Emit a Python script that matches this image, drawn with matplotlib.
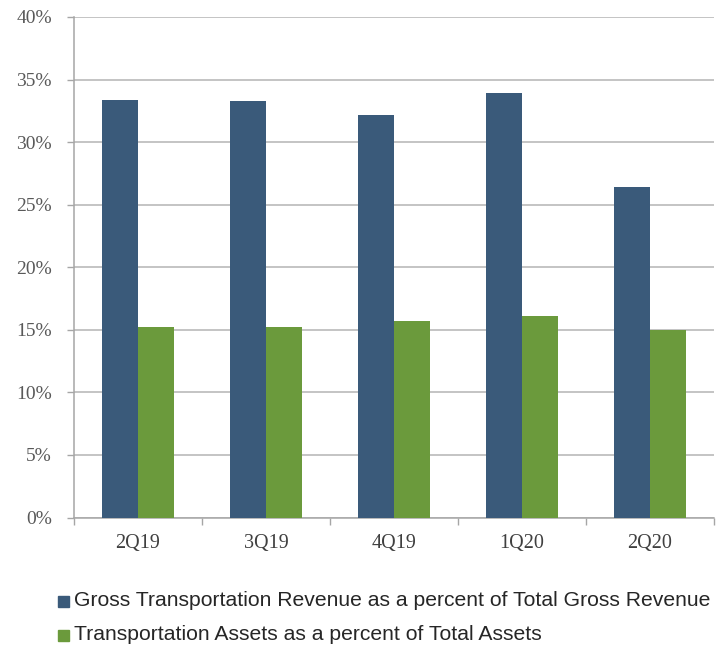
import numpy as np
import matplotlib.pyplot as plt
from matplotlib.patches import Rectangle

quarters = ["2Q19", "3Q19", "4Q19", "1Q20", "2Q20"]
revenue_pct = [33.4, 33.3, 32.2, 33.9, 26.4]
assets_pct = [15.2, 15.2, 15.7, 16.1, 15.0]
series_names = ["Gross Transportation Revenue as a percent of Total Gross Revenue",
                "Transportation Assets as a percent of Total Assets"]
yticks = [0, 5, 10, 15, 20, 25, 30, 35, 40]

blue = "#3a5a7a"
green = "#6b9a3c"
grey = "#a6a6a6"
text_c = "#595959"

fig = plt.figure(figsize=(7.18, 6.5), dpi=100)
ax = fig.add_axes([74 / 718, 1 - 517.5 / 650, 640 / 718, 500.5 / 650])

x = np.arange(len(quarters))
w = 0.28
ax.bar(x - w / 2, revenue_pct, w, color=blue, zorder=3)
ax.bar(x + w / 2, assets_pct, w, color=green, zorder=3)

ax.set_xlim(-0.5, len(quarters) - 0.5)
ax.set_ylim(0, 40)
ax.set_yticks(yticks)
ax.set_yticklabels([f"{v}%" for v in yticks], fontsize=14, family="Liberation Serif", color=text_c)
ax.yaxis.grid(True, color="#b4b4b4", linewidth=1.1, zorder=0)

ax.set_xticks(x)
ax.set_xticklabels(quarters, fontsize=14.5, family="Liberation Serif", color="#404040")
ax.set_xticks(np.arange(-0.5, len(quarters)), minor=True)
ax.tick_params(axis="x", which="major", length=0, pad=12)
ax.tick_params(axis="x", which="minor", length=5, color=grey, width=1)
ax.tick_params(axis="y", length=5, color=grey, width=1, pad=11)

for s in ["top", "right"]:
    ax.spines[s].set_visible(False)
for s in ["left", "bottom"]:
    ax.spines[s].set_color(grey)
    ax.spines[s].set_linewidth(1.1)

# legend drawn below the plot
for i, (name, col) in enumerate(zip(series_names, [blue, green])):
    yy = 1 - (601 + i * 34) / 650
    fig.patches.append(Rectangle((58 / 718, yy - 5.5 / 650), 11 / 718, 11 / 650,
                                 transform=fig.transFigure, color=col))
    fig.text(74 / 718, yy, name, fontsize=15.2, family="Liberation Sans", color="#262626",
             va="center", ha="left")

fig.savefig("out.png", dpi=100)
